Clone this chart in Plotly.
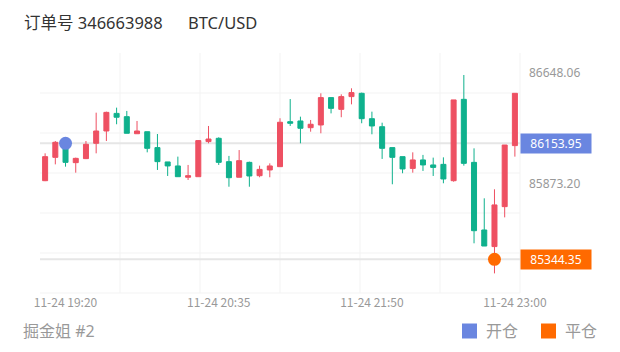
import plotly.graph_objects as go
import pandas as pd

# ---- data ----
times = [t.strftime("%m-%d %H:%M") for t in pd.date_range("2024-11-24 19:10", periods=47, freq="5min")]
opens = [85893, 86056, 86154, 86019, 86047, 86154, 86240, 86363, 86340, 86221, 86235, 86124, 86024, 85996, 85917, 85921,
         86166, 86189, 86026, 85917, 86021, 85928, 85968, 85991, 86305, 86310, 86263, 86282, 86473, 86391, 86480, 86503,
         86326, 86270, 86124, 86061, 85979, 86038, 86003, 86007, 85893, 86461, 86021, 85549, 85433, 85712, 86138]
highs = [86084, 86170, 86166, 86054, 86170, 86368, 86375, 86403, 86380, 86310, 86235, 86219, 86024, 86061, 86003, 86177,
         86275, 86196, 86066, 86107, 86026, 85998, 86014, 86329, 86463, 86340, 86317, 86503, 86473, 86496, 86538, 86508,
         86375, 86298, 86124, 86061, 86091, 86073, 86054, 86056, 86457, 86631, 86119, 85770, 85833, 86142, 86503]
lows = [85890, 86007, 85991, 85949, 86044, 86084, 86170, 86287, 86224, 86221, 86091, 85968, 85926, 85921, 85898, 85921,
        86154, 86003, 85851, 85917, 85851, 85917, 85917, 85991, 86275, 86154, 86235, 86224, 86363, 86336, 86426, 86294,
        86217, 86045, 85868, 85945, 85949, 85961, 85926, 85875, 85886, 85998, 85456, 85437, 85246, 85637, 86061]
closes = [86061, 86161, 86021, 86049, 86147, 86240, 86370, 86336, 86224, 86240, 86119, 86026, 85996, 85921, 85928, 86173,
          86184, 86021, 85914, 86033, 85926, 85972, 85996, 86301, 86294, 86259, 86287, 86473, 86398, 86480, 86508, 86326,
          86275, 86119, 86056, 85975, 86038, 86003, 85986, 85905, 86457, 86014, 85544, 85437, 85724, 86142, 86503]

x_tick_vals = ["11-24 19:20", "11-24 20:35", "11-24 21:50", "11-24 23:00"]
y_tick_vals = [86648.06, 85873.20]

open_time = "11-24 19:20"
open_price = 86153.95
close_time = "11-24 22:50"
close_price = 85344.35

title_text = "订单号 346663988"
pair_text = "BTC/USD"
footer_text = "掘金姐 #2"
legend_labels = ["开仓", "平仓"]

# ---- style ----
UP = "#ee5062"
DOWN = "#0fb18d"
BLUE = "#6a86e0"
ORANGE = "#ff6a00"
GRID = "#f3f3f3"
PLINE = "#e6e6e6"
GRAY = "#999999"
FONT = "Noto Sans, Noto Sans CJK SC, sans-serif"
FONT_CJK = "Noto Sans CJK SC, sans-serif"

L, R, T, B = 40, 100, 53, 59
W, H = 620, 352
PW, PH = W - L - R, H - T - B


def px(xp):
    return (xp - L) / PW


def py(yp):
    return (H - B - yp) / PH


fig = go.Figure()
fig.add_trace(go.Candlestick(
    x=times, open=opens, high=highs, low=lows, close=closes,
    increasing=dict(line=dict(color=UP, width=1), fillcolor=UP),
    decreasing=dict(line=dict(color=DOWN, width=1), fillcolor=DOWN),
    whiskerwidth=0, hoverinfo="skip", showlegend=False,
))
fig.add_trace(go.Scatter(x=[open_time], y=[open_price], mode="markers",
                         marker=dict(color=BLUE, size=13), showlegend=False, hoverinfo="skip"))
fig.add_trace(go.Scatter(x=[close_time], y=[close_price], mode="markers",
                         marker=dict(color=ORANGE, size=13), showlegend=False, hoverinfo="skip"))

shapes = []
for k in range(1, 7):
    shapes.append(dict(type="line", xref="paper", yref="paper", x0=k / 6, x1=k / 6, y0=0, y1=1,
                       line=dict(color=GRID, width=1), layer="below"))
for k in range(0, 6):
    shapes.append(dict(type="line", xref="paper", yref="paper", x0=0, x1=1, y0=k / 6, y1=k / 6,
                       line=dict(color=GRID, width=1), layer="below"))
for p in [open_price, close_price]:
    shapes.append(dict(type="line", xref="paper", yref="y", x0=0, x1=1, y0=p, y1=p,
                       line=dict(color=PLINE, width=2), layer="below"))
# legend squares
for x0, c in [(462, BLUE), (541, ORANGE)]:
    shapes.append(dict(type="rect", xref="paper", yref="paper", x0=px(x0), x1=px(x0 + 15),
                       y0=py(338.5), y1=py(323.5), fillcolor=c, line=dict(width=0)))

annotations = [
    dict(text=title_text, xref="paper", yref="paper", x=px(22), y=py(22), xanchor="left", yanchor="middle",
         showarrow=False, font=dict(family=FONT, size=16.5, color="#333333")),
    dict(text=pair_text, xref="paper", yref="paper", x=px(186), y=py(22), xanchor="left", yanchor="middle",
         showarrow=False, font=dict(family=FONT, size=16.5, color="#333333")),
    dict(text=footer_text, xref="paper", yref="paper", x=px(21), y=py(331), xanchor="left", yanchor="middle",
         showarrow=False, font=dict(family=FONT, size=16, color=GRAY)),
    dict(text=legend_labels[0], xref="paper", yref="paper", x=px(484), y=py(331), xanchor="left", yanchor="middle",
         showarrow=False, font=dict(family=FONT, size=16, color=GRAY)),
    dict(text=legend_labels[1], xref="paper", yref="paper", x=px(563), y=py(331), xanchor="left", yanchor="middle",
         showarrow=False, font=dict(family=FONT, size=16, color=GRAY)),
]
for p, c in [(open_price, BLUE), (close_price, ORANGE)]:
    annotations.append(dict(text=f"{p:.2f}", xref="paper", yref="y", x=1, y=p, xanchor="left", yanchor="middle",
                            showarrow=False, bgcolor=c, width=70, height=19, borderpad=0, align="center",
                            font=dict(family=FONT, size=12, color="white")))

fig.update_layout(
    width=W, height=H, margin=dict(l=L, r=R, t=T, b=B),
    paper_bgcolor="white", plot_bgcolor="white",
    shapes=shapes, annotations=annotations, boxgap=0.3, showlegend=False,
    xaxis=dict(type="category", range=[-0.5, len(times) - 0.5], rangeslider=dict(visible=False),
               tickvals=x_tick_vals, ticktext=x_tick_vals, showgrid=False, zeroline=False, showline=False,
               ticks="", ticklabelstandoff=1, tickfont=dict(family=FONT_CJK, size=12, color=GRAY), fixedrange=True),
    yaxis=dict(range=[85109, 86784.5], side="right", tickvals=y_tick_vals,
               ticktext=[f"{v:.2f}" for v in y_tick_vals], showgrid=False, zeroline=False, showline=False,
               ticks="", ticklabelstandoff=8, tickfont=dict(family=FONT, size=12, color=GRAY), fixedrange=True),
)

fig.write_html("out.html")
